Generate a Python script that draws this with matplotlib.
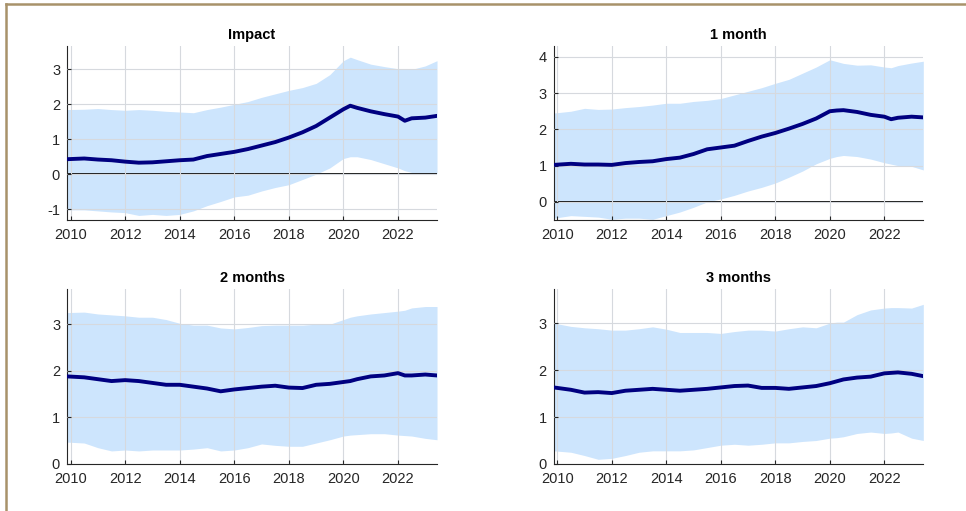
import matplotlib
matplotlib.use("Agg")
import matplotlib.pyplot as plt
from matplotlib.lines import Line2D

plt.rcParams["font.family"] = ["Liberation Sans", "DejaVu Sans"]
plt.rcParams["axes.unicode_minus"] = False

# Sample dates (decimal years)
dates = [2009.87, 2010.5, 2011.0, 2011.5, 2012.0, 2012.5, 2013.0, 2013.5, 2014.0, 2014.5,
         2015.0, 2015.5, 2016.0, 2016.5, 2017.0, 2017.5, 2018.0, 2018.5, 2019.0, 2019.5,
         2020.0, 2020.25, 2020.5, 2021.0, 2021.5, 2022.0, 2022.25, 2022.5, 2023.0, 2023.43]

titles = ["Impact", "1 month", "2 months", "3 months"]

impact_mid = [0.43, 0.45, 0.42, 0.40, 0.36, 0.33, 0.34, 0.37, 0.40, 0.42,
              0.52, 0.58, 0.64, 0.72, 0.82, 0.92, 1.05, 1.20, 1.38, 1.62,
              1.86, 1.96, 1.90, 1.80, 1.72, 1.65, 1.53, 1.60, 1.62, 1.67]
impact_hi = [1.85, 1.86, 1.88, 1.85, 1.83, 1.85, 1.83, 1.80, 1.78, 1.76,
             1.85, 1.92, 2.00, 2.08, 2.20, 2.30, 2.40, 2.48, 2.60, 2.85,
             3.25, 3.35, 3.28, 3.15, 3.08, 3.02, 3.00, 3.00, 3.10, 3.25]
impact_lo = [-1.02, -1.02, -1.05, -1.08, -1.10, -1.18, -1.15, -1.18, -1.15, -1.05,
             -0.90, -0.78, -0.65, -0.60, -0.48, -0.38, -0.30, -0.15, 0.00, 0.18,
             0.45, 0.50, 0.50, 0.42, 0.30, 0.18, 0.10, 0.05, 0.00, 0.02]

m1_mid = [1.02, 1.05, 1.03, 1.03, 1.02, 1.07, 1.10, 1.12, 1.18, 1.22,
          1.32, 1.45, 1.50, 1.55, 1.68, 1.80, 1.90, 2.02, 2.15, 2.30,
          2.50, 2.52, 2.53, 2.48, 2.40, 2.35, 2.28, 2.32, 2.35, 2.33]
m1_hi = [2.45, 2.50, 2.58, 2.55, 2.56, 2.60, 2.63, 2.67, 2.72, 2.72,
         2.77, 2.80, 2.85, 2.95, 3.05, 3.15, 3.27, 3.38, 3.55, 3.72,
         3.92, 3.87, 3.82, 3.77, 3.78, 3.72, 3.70, 3.76, 3.83, 3.88]
m1_lo = [-0.45, -0.38, -0.40, -0.42, -0.48, -0.45, -0.45, -0.48, -0.38, -0.28,
         -0.15, 0.00, 0.08, 0.18, 0.30, 0.40, 0.52, 0.68, 0.85, 1.05,
         1.20, 1.25, 1.28, 1.25, 1.18, 1.08, 1.04, 1.00, 0.98, 0.88]

m2_mid = [1.88, 1.86, 1.82, 1.78, 1.80, 1.78, 1.74, 1.70, 1.70, 1.66,
          1.62, 1.56, 1.60, 1.63, 1.66, 1.68, 1.64, 1.63, 1.70, 1.72,
          1.76, 1.78, 1.82, 1.88, 1.90, 1.95, 1.90, 1.90, 1.92, 1.90]
m2_hi = [3.25, 3.26, 3.22, 3.20, 3.18, 3.15, 3.15, 3.10, 3.02, 2.98,
         2.98, 2.92, 2.90, 2.93, 2.97, 2.98, 2.98, 2.98, 3.00, 3.00,
         3.10, 3.15, 3.18, 3.22, 3.25, 3.28, 3.30, 3.35, 3.38, 3.38]
m2_lo = [0.47, 0.45, 0.35, 0.28, 0.30, 0.28, 0.30, 0.30, 0.30, 0.32,
         0.35, 0.28, 0.30, 0.35, 0.43, 0.40, 0.38, 0.38, 0.45, 0.52,
         0.60, 0.62, 0.63, 0.65, 0.65, 0.62, 0.61, 0.60, 0.55, 0.52]

m3_mid = [1.63, 1.58, 1.52, 1.53, 1.51, 1.56, 1.58, 1.60, 1.58, 1.56,
          1.58, 1.60, 1.63, 1.66, 1.67, 1.62, 1.62, 1.60, 1.63, 1.66,
          1.72, 1.76, 1.80, 1.84, 1.86, 1.93, 1.94, 1.95, 1.92, 1.87]
m3_hi = [3.00, 2.93, 2.90, 2.88, 2.85, 2.85, 2.88, 2.92, 2.87, 2.80,
         2.80, 2.80, 2.78, 2.82, 2.85, 2.85, 2.83, 2.88, 2.92, 2.90,
         3.00, 3.02, 3.02, 3.18, 3.28, 3.32, 3.33, 3.33, 3.32, 3.40]
m3_lo = [0.28, 0.25, 0.18, 0.10, 0.12, 0.18, 0.25, 0.28, 0.28, 0.28,
         0.30, 0.35, 0.40, 0.42, 0.40, 0.42, 0.45, 0.45, 0.48, 0.50,
         0.55, 0.56, 0.58, 0.65, 0.68, 0.65, 0.66, 0.68, 0.55, 0.50]

year_ticks = [2010, 2012, 2014, 2016, 2018, 2020, 2022]

panels = [
    dict(mid=impact_mid, hi=impact_hi, lo=impact_lo, ylim=(-1.31, 3.67),
         yticks=[-1, 0, 1, 2, 3], zero=True, rect=[0.0694, 0.5695, 0.383, 0.3405]),
    dict(mid=m1_mid, hi=m1_hi, lo=m1_lo, ylim=(-0.5, 4.3),
         yticks=[0, 1, 2, 3, 4], zero=True, rect=[0.5732, 0.5695, 0.3826, 0.3405]),
    dict(mid=m2_mid, hi=m2_hi, lo=m2_lo, ylim=(0, 3.75),
         yticks=[0, 1, 2, 3], zero=False, rect=[0.0694, 0.092, 0.383, 0.3419]),
    dict(mid=m3_mid, hi=m3_hi, lo=m3_lo, ylim=(0, 3.72),
         yticks=[0, 1, 2, 3], zero=False, rect=[0.5732, 0.092, 0.3826, 0.3419]),
]

fig = plt.figure(figsize=(9.66, 5.11), dpi=100)

for title, p in zip(titles, panels):
    ax = fig.add_axes(p["rect"])
    ax.fill_between(dates, p["lo"], p["hi"], color="#cde5fd", linewidth=0, zorder=1)
    if p["zero"]:
        ax.axhline(0, color="#1a1a1a", linewidth=1.4, zorder=2)
    ax.plot(dates, p["mid"], color="#000080", linewidth=2.8, zorder=3)
    ax.set_xlim(dates[0], dates[-1])
    ax.set_ylim(*p["ylim"])
    ax.set_xticks(year_ticks)
    ax.set_yticks(p["yticks"])
    ax.grid(True, color="#d6d9de", linewidth=0.8, zorder=0)
    ax.set_axisbelow(False)
    for side in ("top", "right"):
        ax.spines[side].set_visible(False)
    for side in ("left", "bottom"):
        ax.spines[side].set_color("#262626")
        ax.spines[side].set_linewidth(0.8)
    ax.tick_params(direction="in", length=3, width=0.8, colors="#262626",
                   labelsize=10.5, labelcolor="#262626")
    ax.tick_params(axis="x", pad=5.5)
    ax.tick_params(axis="y", pad=5)
    ax.set_title(title, fontsize=10.5, fontweight="bold", color="black", pad=5)

# Frame lines along the top and left edges
fig.add_artist(Line2D([6 / 966, 1.0], [1 - 4.5 / 511, 1 - 4.5 / 511],
                      transform=fig.transFigure, color="#a8926a", linewidth=1.8))
fig.add_artist(Line2D([6 / 966, 6 / 966], [0.0, 1 - 4.5 / 511],
                      transform=fig.transFigure, color="#a8926a", linewidth=1.8))

fig.savefig("out.png", dpi=100)
